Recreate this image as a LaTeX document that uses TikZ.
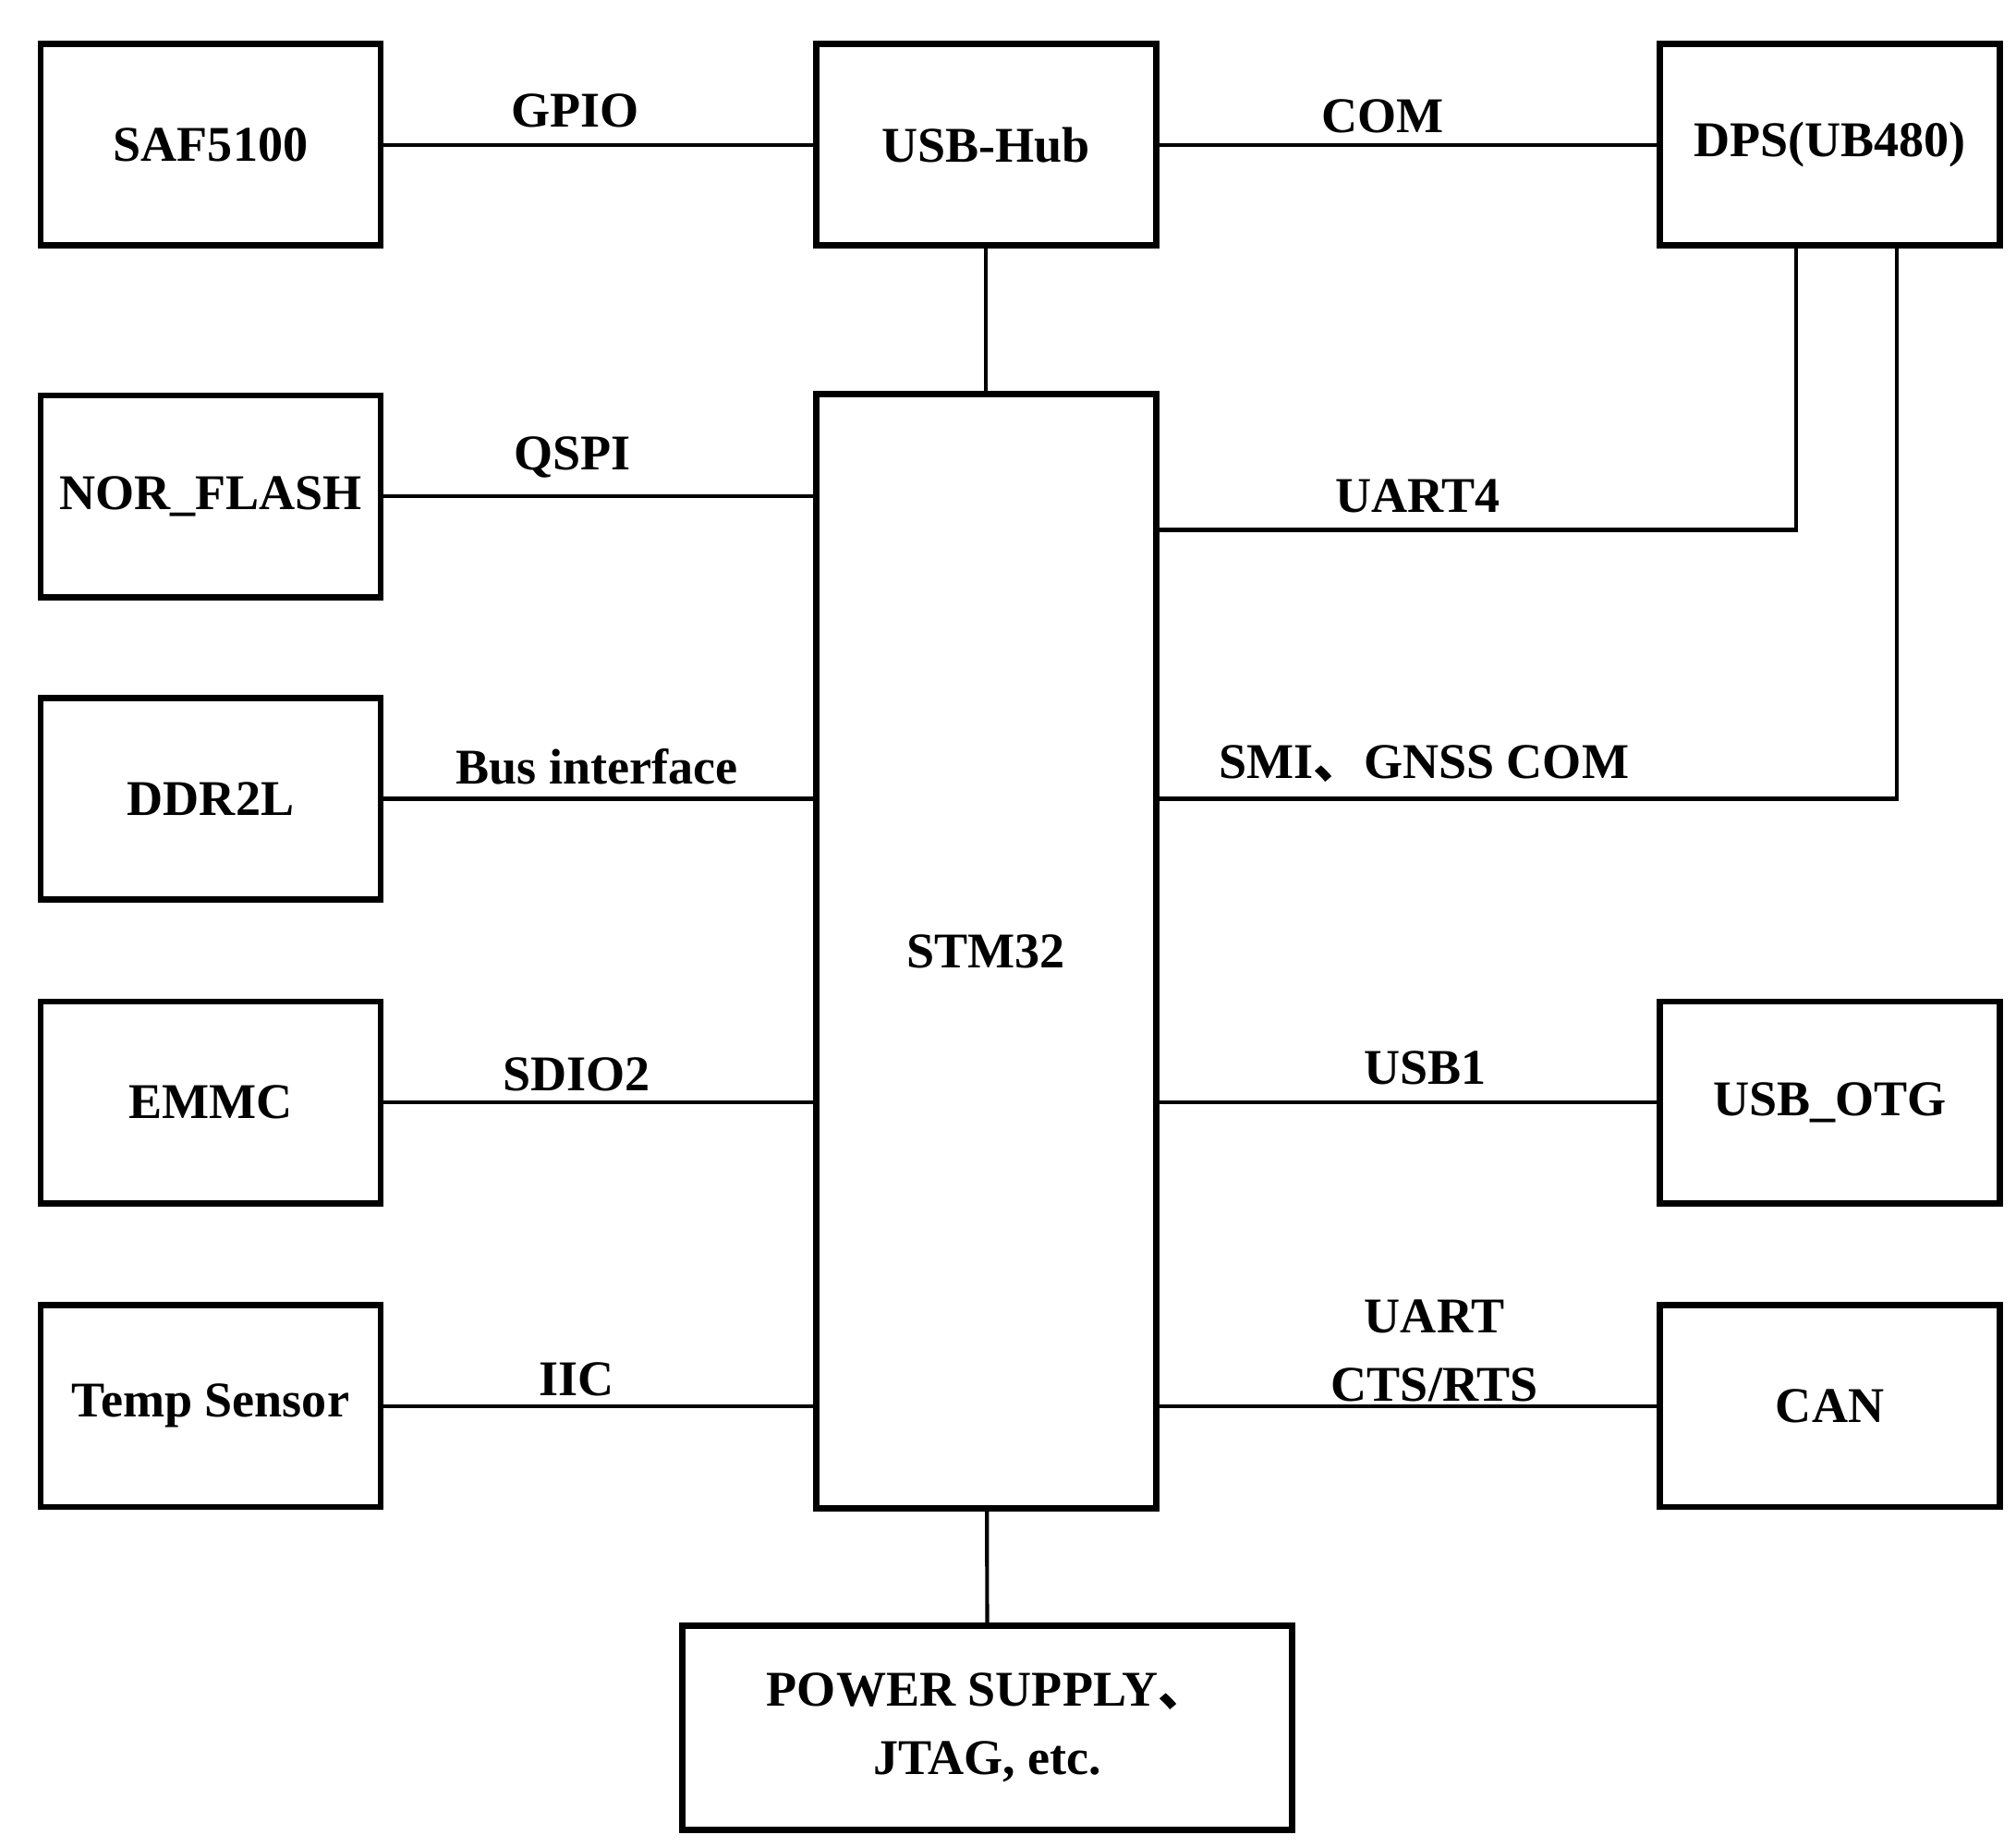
\documentclass[tikz,border=0pt]{standalone}
\usepackage{fontspec}
\setmainfont{Liberation Serif}
\newfontfamily\cjk{Noto Sans CJK SC}
\begin{document}
\begin{tikzpicture}[x=0.01cm,y=-0.01cm,
  box/.style={draw,line width=1.4pt,minimum width=2.63cm,minimum height=1.56cm,inner sep=0,font=\fontsize{11}{13}\selectfont\bfseries,align=center},
  lab/.style={font=\fontsize{11}{13}\selectfont\bfseries,align=center,inner sep=0},
  con/.style={line width=0.85pt}]
\useasboundingbox (0,0) rectangle (1560,1429);
\node[box] (saf) at (163,112) {SAF5100};
\node[box] (hub) at (763,112) {USB-Hub};
\node[box] (dps) at (1416,112) {DPS(UB480)};
\node[box] (nor) at (163,384) {NOR\_FLASH};
\node[box] (ddr) at (163,618) {DDR2L};
\node[box] (emmc) at (163,853) {EMMC};
\node[box] (temp) at (163,1088) {Temp Sensor};
\node[box,minimum height=8.62cm] (stm) at (763,736) {STM32};
\node[box] (otg) at (1416,853) {USB\_OTG};
\node[box] (can) at (1416,1088) {CAN};
\node[box,minimum width=4.72cm,minimum height=1.58cm] (pwr) at (764,1337) {POWER SUPPLY{\cjk 、}\\[2pt]JTAG, etc.};
\draw[con] (saf) -- (hub);
\draw[con] (hub) -- (dps);
\draw[con] (hub) -- (stm);
\draw[con] (stm) -- (pwr);
\draw[con] (nor.east) -- (nor.east -| stm.west);
\draw[con] (ddr.east) -- (ddr.east -| stm.west);
\draw[con] (emmc.east) -- (emmc.east -| stm.west);
\draw[con] (temp.east) -- (temp.east -| stm.west);
\draw[con] (otg.west) -- (otg.west -| stm.east);
\draw[con] (can.west) -- (can.west -| stm.east);
\coordinate (u4) at (1390,410);
\coordinate (smi) at (1468,618);
\draw[con] (u4 -| stm.east) -- (u4) -- (u4 |- dps.south);
\draw[con] (smi -| stm.east) -- (smi) -- (smi |- dps.south);
\node[lab] at (445,86) {GPIO};
\node[lab] at (1070,90) {COM};
\node[lab] at (443,354) {QSPI};
\node[lab] at (1097,384) {UART4};
\node[lab] at (462,593) {Bus interface};
\node[lab] at (1102,591) {SMI{\cjk 、}GNSS COM};
\node[lab] at (446,831) {SDIO2};
\node[lab] at (1103,826) {USB1};
\node[lab] at (446,1067) {IIC};
\node[lab] at (1110,1045) {UART\\[2pt]CTS/RTS};
\end{tikzpicture}
\end{document}
